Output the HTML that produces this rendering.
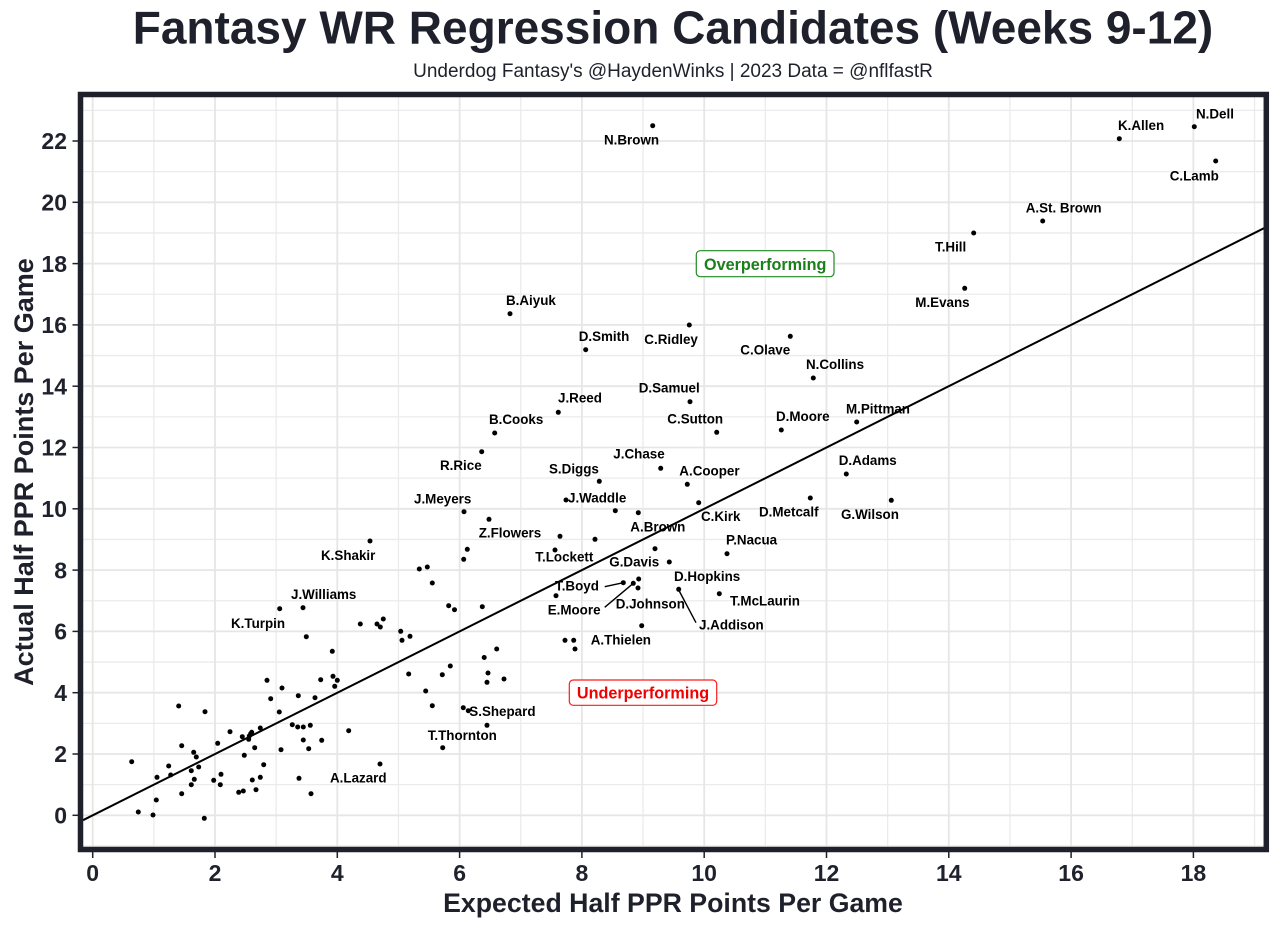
<!DOCTYPE html>
<html><head><meta charset="utf-8"><style>
html,body{margin:0;padding:0;background:#fff;}
svg{display:block;}
text{font-family:"Liberation Sans",Arial,sans-serif;}
.lab{font-size:13.4px;font-weight:bold;fill:#000;}
.tk{font-size:23px;font-weight:bold;fill:#1f222d;}
</style></head><body>
<svg width="1280" height="926" viewBox="0 0 1280 926" xmlns="http://www.w3.org/2000/svg">
<rect x="0" y="0" width="1280" height="926" fill="#fff"/>
<text x="673" y="43.5" text-anchor="middle" font-size="46" font-weight="bold" fill="#1e212b">Fantasy WR Regression Candidates (Weeks 9-12)</text>
<text x="673" y="77" text-anchor="middle" font-size="19" fill="#1e212b">Underdog Fantasy's @HaydenWinks | 2023 Data = @nflfastR</text>
<g stroke="#ebebeb" stroke-width="1.3">
<line x1="153.85" y1="97" x2="153.85" y2="847"/><line x1="276.15" y1="97" x2="276.15" y2="847"/><line x1="398.45" y1="97" x2="398.45" y2="847"/><line x1="520.75" y1="97" x2="520.75" y2="847"/><line x1="643.05" y1="97" x2="643.05" y2="847"/><line x1="765.35" y1="97" x2="765.35" y2="847"/><line x1="887.65" y1="97" x2="887.65" y2="847"/><line x1="1009.95" y1="97" x2="1009.95" y2="847"/><line x1="1132.25" y1="97" x2="1132.25" y2="847"/><line x1="1254.55" y1="97" x2="1254.55" y2="847"/>
<line x1="83" y1="845.95" x2="1264" y2="845.95"/><line x1="83" y1="784.65" x2="1264" y2="784.65"/><line x1="83" y1="723.35" x2="1264" y2="723.35"/><line x1="83" y1="662.05" x2="1264" y2="662.05"/><line x1="83" y1="600.75" x2="1264" y2="600.75"/><line x1="83" y1="539.45" x2="1264" y2="539.45"/><line x1="83" y1="478.15" x2="1264" y2="478.15"/><line x1="83" y1="416.85" x2="1264" y2="416.85"/><line x1="83" y1="355.55" x2="1264" y2="355.55"/><line x1="83" y1="294.25" x2="1264" y2="294.25"/><line x1="83" y1="232.95" x2="1264" y2="232.95"/><line x1="83" y1="171.65" x2="1264" y2="171.65"/><line x1="83" y1="110.35" x2="1264" y2="110.35"/>
</g>
<g stroke="#e6e6e6" stroke-width="1.8">
<line x1="92.7" y1="97" x2="92.7" y2="847"/><line x1="215" y1="97" x2="215" y2="847"/><line x1="337.3" y1="97" x2="337.3" y2="847"/><line x1="459.6" y1="97" x2="459.6" y2="847"/><line x1="581.9" y1="97" x2="581.9" y2="847"/><line x1="704.2" y1="97" x2="704.2" y2="847"/><line x1="826.5" y1="97" x2="826.5" y2="847"/><line x1="948.8" y1="97" x2="948.8" y2="847"/><line x1="1071.1" y1="97" x2="1071.1" y2="847"/><line x1="1193.4" y1="97" x2="1193.4" y2="847"/>
<line x1="83" y1="815.3" x2="1264" y2="815.3"/><line x1="83" y1="754" x2="1264" y2="754"/><line x1="83" y1="692.7" x2="1264" y2="692.7"/><line x1="83" y1="631.4" x2="1264" y2="631.4"/><line x1="83" y1="570.1" x2="1264" y2="570.1"/><line x1="83" y1="508.8" x2="1264" y2="508.8"/><line x1="83" y1="447.5" x2="1264" y2="447.5"/><line x1="83" y1="386.2" x2="1264" y2="386.2"/><line x1="83" y1="324.9" x2="1264" y2="324.9"/><line x1="83" y1="263.6" x2="1264" y2="263.6"/><line x1="83" y1="202.3" x2="1264" y2="202.3"/><line x1="83" y1="141" x2="1264" y2="141"/>
</g>
<line x1="83" y1="820.2" x2="1264" y2="228.2" stroke="#000" stroke-width="2"/>
<g stroke="#000" stroke-width="1.4">
<line x1="604.7" y1="586.7" x2="623.3" y2="582.7"/>
<line x1="604.7" y1="607.3" x2="633.3" y2="583.3"/>
<line x1="678.7" y1="590" x2="696" y2="622.7"/>
</g>
<g fill="#000">
<circle cx="131.7" cy="761.7" r="2.5"/><circle cx="138.3" cy="812" r="2.5"/><circle cx="153" cy="815" r="2.5"/><circle cx="156.3" cy="800" r="2.5"/><circle cx="157" cy="777.3" r="2.5"/><circle cx="168.7" cy="766" r="2.5"/><circle cx="170.7" cy="775" r="2.5"/><circle cx="178.7" cy="706" r="2.5"/><circle cx="181.7" cy="745.7" r="2.5"/><circle cx="181.7" cy="793.7" r="2.5"/><circle cx="191.3" cy="770.7" r="2.5"/><circle cx="191.3" cy="784.7" r="2.5"/><circle cx="193.7" cy="752.3" r="2.5"/><circle cx="194.3" cy="779.3" r="2.5"/><circle cx="196.3" cy="757" r="2.5"/><circle cx="198.7" cy="767" r="2.5"/><circle cx="205" cy="711.7" r="2.5"/><circle cx="204.3" cy="818.3" r="2.5"/><circle cx="213.7" cy="780.3" r="2.5"/><circle cx="217.7" cy="743.3" r="2.5"/><circle cx="220.3" cy="784.7" r="2.5"/><circle cx="221" cy="774.3" r="2.5"/><circle cx="230" cy="731.7" r="2.5"/><circle cx="238.7" cy="792.3" r="2.5"/><circle cx="242.3" cy="736.7" r="2.5"/><circle cx="243.3" cy="791" r="2.5"/><circle cx="244.3" cy="755.3" r="2.5"/><circle cx="248.7" cy="739.3" r="2.5"/><circle cx="249.3" cy="736" r="2.5"/><circle cx="250.7" cy="733.7" r="2.5"/><circle cx="251.7" cy="732.3" r="2.5"/><circle cx="252.3" cy="780" r="2.5"/><circle cx="254.7" cy="747.7" r="2.5"/><circle cx="256" cy="789.7" r="2.5"/><circle cx="260.3" cy="728" r="2.5"/><circle cx="260.3" cy="777.3" r="2.5"/><circle cx="263.7" cy="764.7" r="2.5"/><circle cx="267" cy="680.3" r="2.5"/><circle cx="270.7" cy="698.7" r="2.5"/><circle cx="279.3" cy="712" r="2.5"/><circle cx="281" cy="749.7" r="2.5"/><circle cx="282" cy="688" r="2.5"/><circle cx="292.3" cy="724.7" r="2.5"/><circle cx="297.7" cy="727" r="2.5"/><circle cx="298.3" cy="695.7" r="2.5"/><circle cx="299" cy="778.3" r="2.5"/><circle cx="303.3" cy="727" r="2.5"/><circle cx="303.3" cy="740" r="2.5"/><circle cx="308.7" cy="748.7" r="2.5"/><circle cx="310.3" cy="725.3" r="2.5"/><circle cx="311" cy="793.7" r="2.5"/><circle cx="315" cy="697.7" r="2.5"/><circle cx="320.7" cy="679.7" r="2.5"/><circle cx="321.7" cy="740.3" r="2.5"/><circle cx="332.3" cy="651.3" r="2.5"/><circle cx="333" cy="676.3" r="2.5"/><circle cx="334.7" cy="686.3" r="2.5"/><circle cx="337.3" cy="680.3" r="2.5"/><circle cx="348.7" cy="730.7" r="2.5"/><circle cx="380" cy="764" r="2.5"/><circle cx="408.7" cy="674" r="2.5"/><circle cx="402" cy="640.3" r="2.5"/>
<circle cx="464" cy="511.7" r="2.5"/><circle cx="370" cy="541" r="2.5"/><circle cx="467.3" cy="549.3" r="2.5"/><circle cx="463.7" cy="559.3" r="2.5"/><circle cx="419.3" cy="569" r="2.5"/><circle cx="427.3" cy="567" r="2.5"/><circle cx="432.3" cy="583" r="2.5"/><circle cx="279.7" cy="608.7" r="2.5"/><circle cx="303" cy="607.7" r="2.5"/><circle cx="360.3" cy="624" r="2.5"/><circle cx="377" cy="624" r="2.5"/><circle cx="380.3" cy="627" r="2.5"/><circle cx="383.3" cy="619" r="2.5"/><circle cx="306.3" cy="636.7" r="2.5"/><circle cx="400.7" cy="631.3" r="2.5"/><circle cx="410" cy="636.3" r="2.5"/><circle cx="448.7" cy="605.7" r="2.5"/><circle cx="454.5" cy="609.7" r="2.5"/><circle cx="450.3" cy="666" r="2.5"/>
<circle cx="566" cy="500" r="2.5"/><circle cx="599.3" cy="481.3" r="2.5"/><circle cx="687.3" cy="484.3" r="2.5"/><circle cx="698.7" cy="502.7" r="2.5"/><circle cx="489" cy="519.3" r="2.5"/><circle cx="615.3" cy="510.7" r="2.5"/><circle cx="638.3" cy="512.7" r="2.5"/><circle cx="560" cy="536.3" r="2.5"/><circle cx="595" cy="539.3" r="2.5"/><circle cx="555" cy="550" r="2.5"/><circle cx="655" cy="548.7" r="2.5"/><circle cx="669.3" cy="562" r="2.5"/><circle cx="727" cy="553.7" r="2.5"/><circle cx="623.3" cy="582.7" r="2.5"/><circle cx="638.7" cy="579" r="2.5"/><circle cx="633.3" cy="583.3" r="2.5"/><circle cx="638" cy="588" r="2.5"/><circle cx="556" cy="595.7" r="2.5"/><circle cx="678.7" cy="589.3" r="2.5"/><circle cx="719.3" cy="593.7" r="2.5"/><circle cx="482.3" cy="606.7" r="2.5"/><circle cx="641.7" cy="625.7" r="2.5"/><circle cx="565" cy="640.3" r="2.5"/><circle cx="573.7" cy="640.3" r="2.5"/><circle cx="575" cy="649" r="2.5"/><circle cx="496.7" cy="649" r="2.5"/><circle cx="484.2" cy="657.5" r="2.5"/>
<circle cx="442.3" cy="674.7" r="2.5"/><circle cx="488" cy="673" r="2.5"/><circle cx="487" cy="682.3" r="2.5"/><circle cx="504" cy="679" r="2.5"/><circle cx="425.7" cy="691" r="2.5"/><circle cx="432.3" cy="705.7" r="2.5"/><circle cx="463.3" cy="707.7" r="2.5"/><circle cx="468.3" cy="710.7" r="2.5"/><circle cx="487" cy="725.3" r="2.5"/><circle cx="442.7" cy="747.7" r="2.5"/>
<circle cx="652.7" cy="125.7" r="2.5"/><circle cx="510" cy="313.7" r="2.5"/><circle cx="585.7" cy="349.7" r="2.5"/><circle cx="689.3" cy="325" r="2.5"/><circle cx="790.3" cy="336.3" r="2.5"/><circle cx="690" cy="401.7" r="2.5"/><circle cx="558.3" cy="412.3" r="2.5"/><circle cx="494.7" cy="433" r="2.5"/><circle cx="716.7" cy="432.3" r="2.5"/><circle cx="781.3" cy="430" r="2.5"/><circle cx="481.7" cy="451.7" r="2.5"/><circle cx="660.7" cy="468.3" r="2.5"/>
<circle cx="813.3" cy="378" r="2.5"/><circle cx="856.7" cy="422" r="2.5"/><circle cx="846.3" cy="474" r="2.5"/><circle cx="810.3" cy="498" r="2.5"/><circle cx="891.3" cy="500.3" r="2.5"/>
<circle cx="1194.3" cy="126.7" r="2.5"/><circle cx="1119.3" cy="138.7" r="2.5"/><circle cx="1215.7" cy="161" r="2.5"/><circle cx="1042.7" cy="221" r="2.5"/><circle cx="973.7" cy="233" r="2.5"/><circle cx="964.7" cy="288.3" r="2.5"/>
</g>
<g class="lab">
<text x="604" y="144.3">N.Brown</text>
<text x="1118" y="130">K.Allen</text>
<text x="1196" y="118.3">N.Dell</text>
<text x="1169.7" y="180.5">C.Lamb</text>
<text x="1025.7" y="212.3">A.St. Brown</text>
<text x="935" y="251.7">T.Hill</text>
<text x="915.3" y="307">M.Evans</text>
<text x="506" y="305">B.Aiyuk</text>
<text x="578.7" y="341">D.Smith</text>
<text x="644.3" y="344">C.Ridley</text>
<text x="740.3" y="354.3">C.Olave</text>
<text x="806" y="369">N.Collins</text>
<text x="638.7" y="392.7">D.Samuel</text>
<text x="558" y="402.3">J.Reed</text>
<text x="846" y="413.3">M.Pittman</text>
<text x="776" y="421">D.Moore</text>
<text x="667.3" y="423.3">C.Sutton</text>
<text x="489" y="424">B.Cooks</text>
<text x="613.3" y="458.7">J.Chase</text>
<text x="838.7" y="465">D.Adams</text>
<text x="440" y="470">R.Rice</text>
<text x="549" y="473.3">S.Diggs</text>
<text x="679.3" y="475.7">A.Cooper</text>
<text x="568" y="502.3">J.Waddle</text>
<text x="414" y="503.3">J.Meyers</text>
<text x="759" y="516.7">D.Metcalf</text>
<text x="841" y="519">G.Wilson</text>
<text x="701" y="521">C.Kirk</text>
<text x="630.3" y="531.7">A.Brown</text>
<text x="478.7" y="537.7">Z.Flowers</text>
<text x="726" y="544.7">P.Nacua</text>
<text x="321" y="560">K.Shakir</text>
<text x="535.3" y="561.7">T.Lockett</text>
<text x="609.3" y="566.7">G.Davis</text>
<text x="674" y="581">D.Hopkins</text>
<text x="555" y="590.7">T.Boyd</text>
<text x="291" y="599">J.Williams</text>
<text x="730" y="605.7">T.McLaurin</text>
<text x="615.7" y="608.3">D.Johnson</text>
<text x="547.7" y="614.3">E.Moore</text>
<text x="231" y="628">K.Turpin</text>
<text x="699" y="629.3">J.Addison</text>
<text x="590.7" y="644.7">A.Thielen</text>
<text x="469.3" y="716">S.Shepard</text>
<text x="427.7" y="740">T.Thornton</text>
<text x="330" y="782.7">A.Lazard</text>
</g>
<rect x="696.3" y="250.7" width="137.7" height="26" rx="4" ry="4" fill="#fff" stroke="#1f8a1f" stroke-width="1.2"/>
<text x="765.2" y="270" text-anchor="middle" font-size="16.2" font-weight="bold" fill="#1a801a">Overperforming</text>
<rect x="569.3" y="680" width="147.4" height="25.3" rx="4" ry="4" fill="#fff" stroke="#ff1a1a" stroke-width="1.2"/>
<text x="643" y="698.3" text-anchor="middle" font-size="16.2" font-weight="bold" fill="#f00000">Underperforming</text>
<rect x="80.5" y="94.5" width="1185.8" height="755" fill="none" stroke="#1e212b" stroke-width="5.5"/>
<g stroke="#1e212b" stroke-width="1.5">
<line x1="72.5" y1="815.3" x2="78" y2="815.3"/><line x1="72.5" y1="754" x2="78" y2="754"/><line x1="72.5" y1="692.7" x2="78" y2="692.7"/><line x1="72.5" y1="631.4" x2="78" y2="631.4"/><line x1="72.5" y1="570.1" x2="78" y2="570.1"/><line x1="72.5" y1="508.8" x2="78" y2="508.8"/><line x1="72.5" y1="447.5" x2="78" y2="447.5"/><line x1="72.5" y1="386.2" x2="78" y2="386.2"/><line x1="72.5" y1="324.9" x2="78" y2="324.9"/><line x1="72.5" y1="263.6" x2="78" y2="263.6"/><line x1="72.5" y1="202.3" x2="78" y2="202.3"/><line x1="72.5" y1="141" x2="78" y2="141"/>
<line x1="92.7" y1="852" x2="92.7" y2="858"/><line x1="215" y1="852" x2="215" y2="858"/><line x1="337.3" y1="852" x2="337.3" y2="858"/><line x1="459.6" y1="852" x2="459.6" y2="858"/><line x1="581.9" y1="852" x2="581.9" y2="858"/><line x1="704.2" y1="852" x2="704.2" y2="858"/><line x1="826.5" y1="852" x2="826.5" y2="858"/><line x1="948.8" y1="852" x2="948.8" y2="858"/><line x1="1071.1" y1="852" x2="1071.1" y2="858"/><line x1="1193.4" y1="852" x2="1193.4" y2="858"/>
</g>
<g class="tk" text-anchor="end">
<text x="67" y="823.5">0</text><text x="67" y="762.2">2</text><text x="67" y="700.9">4</text><text x="67" y="639.6">6</text><text x="67" y="578.3">8</text><text x="67" y="517">10</text><text x="67" y="455.7">12</text><text x="67" y="394.4">14</text><text x="67" y="333.1">16</text><text x="67" y="271.8">18</text><text x="67" y="210.5">20</text><text x="67" y="149.2">22</text>
</g>
<g class="tk" text-anchor="middle">
<text x="92.7" y="881">0</text><text x="215" y="881">2</text><text x="337.3" y="881">4</text><text x="459.6" y="881">6</text><text x="581.9" y="881">8</text><text x="704.2" y="881">10</text><text x="826.5" y="881">12</text><text x="948.8" y="881">14</text><text x="1071.1" y="881">16</text><text x="1193.4" y="881">18</text>
</g>
<text x="673" y="912" text-anchor="middle" font-size="26.7" font-weight="bold" fill="#1e212b">Expected Half PPR Points Per Game</text>
<text transform="translate(33,472) rotate(-90)" x="0" y="0" text-anchor="middle" font-size="27" font-weight="bold" fill="#1e212b">Actual Half PPR Points Per Game</text>
</svg>
</body></html>
